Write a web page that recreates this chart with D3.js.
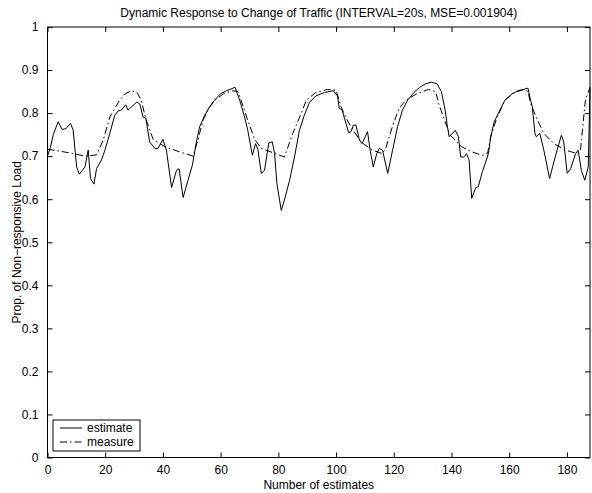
<!DOCTYPE html>
<html>
<head>
<meta charset="utf-8">
<script src="https://cdn.jsdelivr.net/npm/d3@7"></script>
<style>
  body { margin: 0; background: #fff; }
  text { font-family: "Liberation Sans", Arial, sans-serif; fill: #000; }
</style>
</head>
<body>
<div id="container"></div>
<script>
const WIDTH = 592;
const HEIGHT = 493;
const MARGIN = { top: 27, right: 2, bottom: 35.5, left: 47.5 };
const INNER_WIDTH = WIDTH - MARGIN.left - MARGIN.right;
const INNER_HEIGHT = HEIGHT - MARGIN.top - MARGIN.bottom;

// Data: [number of estimate, proportion]
const estimate = [
  [0, 0.70], [1, 0.72], [2, 0.75], [3.7, 0.78], [5.1, 0.762], [6.4, 0.764], [8.0, 0.776],
  [8.9, 0.760], [10.1, 0.675], [11.0, 0.658], [13.0, 0.675], [14.1, 0.714], [14.9, 0.648],
  [16.1, 0.635], [17.0, 0.671], [18.7, 0.691], [19.9, 0.714], [21.6, 0.753], [23.3, 0.795],
  [24.5, 0.805], [25.6, 0.807], [27.1, 0.819], [27.9, 0.807], [31.0, 0.826], [32.0, 0.821],
  [33.1, 0.791], [34.1, 0.788], [35.4, 0.733], [37.2, 0.718], [38.3, 0.718], [40.0, 0.739],
  [41.2, 0.714], [43.0, 0.627], [44.7, 0.667], [45.6, 0.671], [47.0, 0.604], [48.7, 0.644],
  [50.2, 0.679], [51.6, 0.733], [52.7, 0.768], [54.5, 0.795], [56.2, 0.815], [57.9, 0.830],
  [60, 0.845], [62, 0.852], [64, 0.857], [65, 0.86], [66.6, 0.83], [68.3, 0.791],
  [69.4, 0.760], [71.0, 0.702], [72.1, 0.729], [72.9, 0.716], [74.1, 0.660], [75.2, 0.667],
  [76.7, 0.731], [77.9, 0.733], [78.7, 0.706], [79.5, 0.636], [81.0, 0.574], [82.1, 0.598],
  [83.9, 0.644], [85.6, 0.698], [87.3, 0.760], [89.0, 0.795], [90.8, 0.825], [93, 0.84],
  [96, 0.848], [99, 0.852], [100.5, 0.84], [101.1, 0.811], [102.1, 0.807], [102.9, 0.788],
  [104.4, 0.754], [105.2, 0.757], [106.0, 0.772], [106.9, 0.772], [108.1, 0.737], [109.0, 0.729],
  [110.1, 0.745], [110.9, 0.757], [111.8, 0.714], [112.9, 0.675], [114.1, 0.706], [115.0, 0.718],
  [116.1, 0.714], [117.9, 0.660], [119.6, 0.714], [121.3, 0.768], [123.0, 0.807], [124.8, 0.830],
  [127, 0.848], [129, 0.86], [131, 0.868], [133, 0.872], [135, 0.868], [136.5, 0.85],
  [137.8, 0.807], [138.6, 0.768], [139.2, 0.745], [141.3, 0.760], [142.4, 0.745], [143.2, 0.698],
  [144.4, 0.698], [145.2, 0.706], [146.1, 0.691], [147.0, 0.602], [148.4, 0.627], [149.3, 0.629],
  [150.7, 0.664], [151.9, 0.687], [152.8, 0.706], [153.6, 0.745], [154.8, 0.780], [156.5, 0.803],
  [158.5, 0.830], [161, 0.845], [163, 0.852], [165, 0.855], [166.5, 0.858], [167.4, 0.83],
  [168.0, 0.815], [168.9, 0.753], [169.4, 0.745], [170.6, 0.753], [172.0, 0.714], [174.0, 0.648],
  [175.5, 0.687], [176.6, 0.714], [178.1, 0.749], [178.9, 0.733], [180.1, 0.660], [181.3, 0.671],
  [183.0, 0.706], [183.9, 0.714], [185.0, 0.667], [186.2, 0.644], [187.4, 0.675], [188, 0.86]
];
const measure = [
  [0, 0.716], [4, 0.712], [8.9, 0.706], [13, 0.700], [17, 0.703], [19.3, 0.737], [21.6, 0.791],
  [25, 0.83], [27, 0.845], [29, 0.852], [31, 0.848], [32.5, 0.83], [34, 0.788], [36.6, 0.739],
  [40.6, 0.722], [45.8, 0.710], [50.5, 0.700], [52, 0.735], [54, 0.785], [56, 0.812],
  [58, 0.830], [61, 0.845], [64, 0.852], [66, 0.85], [67.1, 0.83], [69.4, 0.783], [71.8, 0.739],
  [74.1, 0.718], [78.1, 0.708], [82.1, 0.698], [85, 0.753], [87.9, 0.799], [89.7, 0.83],
  [93, 0.848], [97, 0.855], [100, 0.853], [101.7, 0.815], [103.5, 0.788], [105.2, 0.768],
  [108.6, 0.733], [112.6, 0.714], [116, 0.706], [117.2, 0.718], [119.5, 0.768], [121.8, 0.811],
  [124.2, 0.83], [128, 0.845], [132, 0.855], [134.5, 0.85], [135.7, 0.819], [137.8, 0.78],
  [139.5, 0.749], [143.5, 0.722], [147, 0.71], [150.7, 0.702], [152.5, 0.706], [153.6, 0.745],
  [155.5, 0.785], [158.5, 0.83], [162, 0.848], [165, 0.855], [166.5, 0.85], [167.4, 0.823],
  [169.3, 0.791], [172, 0.753], [175.5, 0.729], [179.5, 0.714], [183.6, 0.706], [184.7, 0.714],
  [186.4, 0.83], [188, 0.86]
];
const xTickValues = [0, 20, 40, 60, 80, 100, 120, 140, 160, 180];
const yTickValues = [0, 0.1, 0.2, 0.3, 0.4, 0.5, 0.6, 0.7, 0.8, 0.9, 1];
const legendLabels = ['estimate', 'measure'];

const svg = d3.select('#container').append('svg')
    .attr('width', WIDTH)
    .attr('height', HEIGHT)
    .append('g')
    .attr('transform', 'translate(' + MARGIN.left + ',' + MARGIN.top + ')');

// Scales and axes
const x = d3.scaleLinear().domain([0, 188]).range([0, INNER_WIDTH]);
const y = d3.scaleLinear().domain([0, 1]).range([INNER_HEIGHT, 0]);
const fmt = d => String(+d.toFixed(1));

const axes = [
    { axis: d3.axisBottom(x).tickValues(xTickValues).tickSizeInner(-5).tickSizeOuter(0).tickPadding(8).tickFormat(fmt), t: [0, INNER_HEIGHT] },
    { axis: d3.axisTop(x).tickValues(xTickValues).tickSizeInner(-5).tickSizeOuter(0).tickFormat(''), t: [0, 0] },
    { axis: d3.axisLeft(y).tickValues(yTickValues).tickSizeInner(-5).tickSizeOuter(0).tickPadding(9).tickFormat(fmt), t: [0, 0] },
    { axis: d3.axisRight(y).tickValues(yTickValues).tickSizeInner(-5).tickSizeOuter(0).tickFormat(''), t: [INNER_WIDTH, 0] }
];
axes.forEach(a => {
    const g = svg.append('g')
        .attr('transform', 'translate(' + a.t[0] + ',' + a.t[1] + ')')
        .call(a.axis);
    g.select('.domain').remove();
    g.selectAll('line').attr('stroke', '#000');
    g.selectAll('text').attr('font-size', 12).attr('font-family', '"Liberation Sans", Arial, sans-serif');
});

svg.append('rect')
    .attr('width', INNER_WIDTH)
    .attr('height', INNER_HEIGHT)
    .attr('fill', 'none')
    .attr('stroke', '#000')
    .attr('stroke-width', 1);

// Lines
const line = d3.line().x(d => x(d[0])).y(d => y(d[1]));
svg.append('path')
    .datum(measure)
    .attr('d', line)
    .attr('fill', 'none')
    .attr('stroke', '#000')
    .attr('stroke-width', 1)
    .attr('stroke-dasharray', '7,3,1.5,3');
svg.append('path')
    .datum(estimate)
    .attr('d', line)
    .attr('fill', 'none')
    .attr('stroke', '#000')
    .attr('stroke-width', 1);

// Legend
const legend = svg.append('g').attr('transform', 'translate(5.5,' + (INNER_HEIGHT - 37.5) + ')');
legend.append('rect')
    .attr('width', 87)
    .attr('height', 31)
    .attr('fill', '#fff')
    .attr('stroke', '#000');
legendLabels.forEach((label, i) => {
    const ly = 8 + i * 14;
    legend.append('line')
        .attr('x1', 7).attr('x2', 29)
        .attr('y1', ly).attr('y2', ly)
        .attr('stroke', '#000')
        .attr('stroke-dasharray', i === 0 ? null : '7,3,1.5,3');
    legend.append('text')
        .attr('x', 34).attr('y', ly + 4)
        .attr('font-size', 12)
        .text(label);
});

// Titles
svg.append('text')
    .attr('x', INNER_WIDTH / 2)
    .attr('y', -10)
    .attr('text-anchor', 'middle')
    .attr('font-size', 12)
    .text('Dynamic Response to Change of Traffic (INTERVAL=20s, MSE=0.001904)');
svg.append('text')
    .attr('x', INNER_WIDTH / 2)
    .attr('y', INNER_HEIGHT + 31)
    .attr('text-anchor', 'middle')
    .attr('font-size', 12)
    .text('Number of estimates');
svg.append('text')
    .attr('transform', 'translate(-27,' + (INNER_HEIGHT / 2) + ') rotate(-90)')
    .attr('text-anchor', 'middle')
    .attr('font-size', 12)
    .text('Prop. of Non\u2212responsive Load');
</script>
</body>
</html>
